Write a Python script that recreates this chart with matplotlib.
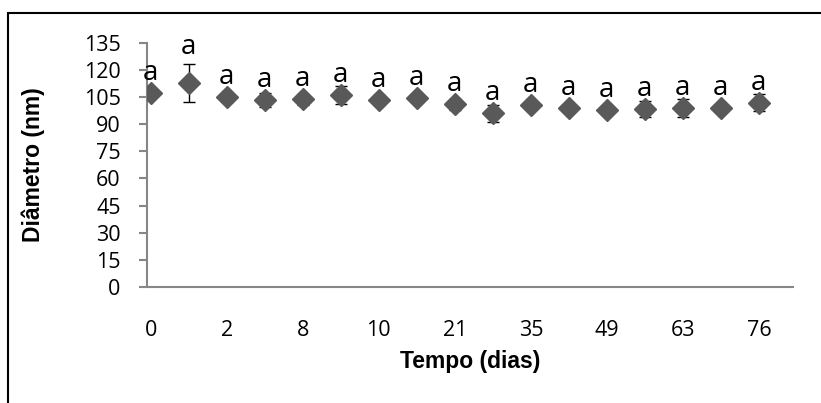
import matplotlib
matplotlib.use("Agg")
import matplotlib.pyplot as plt
from matplotlib.patches import Rectangle

# Particle diameter over storage time
dias = ["0", "1", "2", "4", "8", "9", "10", "14", "21", "28", "35", "42", "49", "56", "63", "70", "76"]
diametro = [107.0, 112.5, 104.8, 103.3, 103.7, 106.1, 103.3, 104.2, 100.9, 96.0,
            100.6, 99.1, 97.8, 98.2, 99.1, 98.7, 101.8]
desvio = [0.6, 10.5, 2.5, 4.0, 3.0, 5.2, 3.0, 1.5, 3.0, 4.7,
          0.8, 1.0, 0.8, 4.4, 4.9, 0.8, 4.7]
letras = ["a"] * len(dias)

fig = plt.figure(figsize=(8.21, 4.03), dpi=100)
ax = fig.add_axes([0.179, 0.288, 0.787, 0.606])
ax.set_xlim(-0.1, 16.9)
ax.set_ylim(0, 135)

x = list(range(len(dias)))
ax.errorbar(x, diametro, yerr=desvio, fmt="none", ecolor="black",
            elinewidth=1, capsize=4, capthick=1, zorder=2)
ax.plot(x, diametro, linestyle="none", marker="D", markersize=11,
        color="#595959", markeredgecolor="#595959", zorder=3)

# significance letters above each point (pixels -> points)
for xi, yi, ei, txt in zip(x, diametro, desvio, letras):
    _, yc = ax.transData.transform((xi, yi))
    _, ytop = ax.transData.transform((xi, yi + ei))
    off = 20 if ytop - yc < 14 else (ytop - yc) + 17
    ax.annotate(txt, (xi, yi), xytext=(0, off * 0.72), textcoords="offset points",
                ha="center", va="center", fontsize=20, family="Open Sans",
                annotation_clip=False)

ax.set_yticks(range(0, 136, 15))
ax.set_xticks(x[::2])
ax.set_xticklabels(dias[::2])

for s in ["top", "right"]:
    ax.spines[s].set_visible(False)
for s in ["left", "bottom"]:
    ax.spines[s].set_color("#868686")
    ax.spines[s].set_linewidth(1.5)
ax.tick_params(axis="y", length=6, width=1.5, color="#868686", pad=13)
ax.tick_params(axis="x", length=0, pad=24)
for lab in ax.get_xticklabels() + ax.get_yticklabels():
    lab.set_family("Open Sans")
    lab.set_fontsize(15.5)

ax.set_xlabel("Tempo (dias)", family="Liberation Sans", fontweight="bold",
              fontsize=16.5, labelpad=6)
ax.set_ylabel("Diâmetro (nm)", family="Liberation Sans", fontweight="bold",
              fontsize=16.5, labelpad=28)

# chart area border
fig.patches.append(Rectangle((8 / 821, -0.1), 1.1, 1 - 13 / 403 + 0.1,
                             transform=fig.transFigure, fill=False,
                             edgecolor="black", linewidth=1.5, clip_on=False))

fig.savefig("out.png", dpi=100)
